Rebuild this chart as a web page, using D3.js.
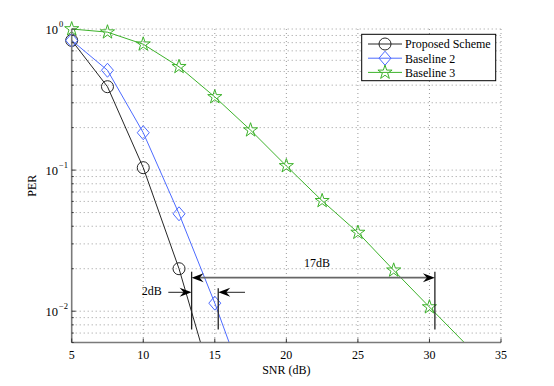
<!DOCTYPE html>
<html>
<head>
<meta charset="utf-8">
<script src="https://cdn.jsdelivr.net/npm/d3@7"></script>
<style>
  body { margin: 0; background: #fff; }
  text { font-family: "Liberation Serif", "Times New Roman", serif; fill: #000; }
</style>
</head>
<body>
<svg id="chart" width="554" height="386"></svg>
<script>
// data
const snr = [5, 7.5, 10, 12.5, 15, 17.5, 20, 22.5, 25, 27.5, 30, 32.5];
const proposed = [0.83, 0.39, 0.104, 0.02, 0.0027];
const baseline2 = [0.83, 0.51, 0.184, 0.049, 0.0114, 0.0023];
const baseline3 = [1.0, 0.95, 0.78, 0.54, 0.33, 0.192, 0.107, 0.0606, 0.0361, 0.0195, 0.0107, 0.0059];
const seriesNames = ['Proposed Scheme', 'Baseline 2', 'Baseline 3'];
const xTicks = [5, 10, 15, 20, 25, 30, 35];
const yDecades = [-2, -1, 0];

// gap annotations (dB / PER)
const gapStart = 13.38;
const gapBaseline2 = 15.24;
const gapBaseline3 = 30.38;
const gapLabels = ['2dB', '17dB'];

const svg = d3.select('#chart');
const W = { left: 71.7, right: 501, top: 29, bottom: 342.5 };
const FS = 12;

const x = d3.scaleLinear().domain([5, 35]).range([W.left, W.right]);
const y = d3.scaleLog().domain([0.006, 1]).range([W.bottom, W.top]);

const series = [
  { name: seriesNames[0], values: proposed, color: '#262626', marker: 'circle' },
  { name: seriesNames[1], values: baseline2, color: '#4d6bff', marker: 'diamond' },
  { name: seriesNames[2], values: baseline3, color: '#3db22b', marker: 'star' },
];

// grid
const grid = svg.append('g').attr('stroke', '#9a9a9a').attr('stroke-dasharray', '1,3').attr('stroke-width', 1);
xTicks.slice(1).forEach((t) => {
  grid.append('line').attr('x1', x(t)).attr('x2', x(t)).attr('y1', W.top).attr('y2', W.bottom);
});
const yGrid = [];
for (let e = -3; e <= 0; e += 1) {
  for (let m = 1; m <= 9; m += 1) {
    const v = m * Math.pow(10, e);
    if (v >= 0.006 && v <= 1) yGrid.push(v);
  }
}
yGrid.forEach((v) => {
  grid.append('line').attr('x1', W.left).attr('x2', W.right).attr('y1', y(v)).attr('y2', y(v));
});

// clip for lines
svg.append('clipPath').attr('id', 'plotClip')
  .append('rect').attr('x', W.left - 1).attr('y', W.top - 2)
  .attr('width', W.right - W.left + 2).attr('height', W.bottom - W.top + 2);

const line = d3.line().x((d) => x(d[0])).y((d) => y(d[1]));

function markerPath(type) {
  if (type === 'circle') return d3.symbol(d3.symbolCircle, Math.PI * 36)();
  if (type === 'diamond') return 'M0,-7L6,0L0,7L-6,0Z';
  return d3.symbol(d3.symbolStar, 62)();
}

series.forEach((s) => {
  const pts = s.values.map((v, i) => [snr[i], v]);
  svg.append('path')
    .attr('clip-path', 'url(#plotClip)')
    .attr('d', line(pts))
    .attr('fill', 'none')
    .attr('stroke', s.color)
    .attr('stroke-width', 1);
  svg.append('g').selectAll('path')
    .data(pts.filter((d) => d[1] >= 0.0062))
    .join('path')
    .attr('transform', (d) => `translate(${x(d[0])},${y(d[1])})`)
    .attr('d', markerPath(s.marker))
    .attr('fill', 'none')
    .attr('stroke', s.color)
    .attr('stroke-width', 1);
});

// axes
const axis = svg.append('g');
axis.append('line').attr('x1', W.left).attr('x2', W.right).attr('y1', W.bottom).attr('y2', W.bottom)
  .attr('stroke', '#7a7a7a').attr('stroke-width', 1.6);
axis.append('line').attr('x1', W.left).attr('x2', W.left).attr('y1', W.top).attr('y2', W.bottom)
  .attr('stroke', '#7a7a7a').attr('stroke-width', 1.6);
xTicks.forEach((t) => {
  axis.append('line').attr('x1', x(t)).attr('x2', x(t)).attr('y1', W.bottom).attr('y2', W.bottom - 4)
    .attr('stroke', '#333');
  axis.append('text').attr('x', x(t)).attr('y', 359).attr('text-anchor', 'middle')
    .attr('font-size', FS).text(t);
});
yGrid.forEach((v) => {
  const major = [1, 0.1, 0.01].includes(v);
  axis.append('line').attr('x1', W.left).attr('x2', W.left + (major ? 4 : 2))
    .attr('y1', y(v)).attr('y2', y(v)).attr('stroke', '#333');
});
yDecades.forEach((e) => {
  const yy = y(Math.pow(10, e));
  axis.append('text').attr('x', 58).attr('y', yy + 4.5).attr('text-anchor', 'end')
    .attr('font-size', 12.5).text('10');
  axis.append('text').attr('x', 59).attr('y', yy - 2).attr('font-size', 8.5)
    .text(e === 0 ? '0' : '\u2212' + (-e));
});
svg.append('text').attr('x', W.left + (W.right - W.left) / 2).attr('y', 374)
  .attr('text-anchor', 'middle').attr('font-size', FS).text('SNR (dB)');
svg.append('text').attr('transform', `translate(36,${(W.top + W.bottom) / 2}) rotate(-90)`)
  .attr('text-anchor', 'middle').attr('font-size', FS).text('PER');

// annotations
const ann = svg.append('g');
function arrowHead(tx, ty, dir) {
  // dir: 1 points right, -1 points left
  ann.append('path')
    .attr('transform', `translate(${tx},${ty}) scale(${dir},1)`)
    .attr('d', 'M0,0L-12,-4.5L-8,0L-12,4.5Z')
    .attr('fill', '#000');
}
const vTop1 = 271.7, vTop2 = 288.3, vBottom = 329.5;
ann.append('line').attr('x1', x(gapStart)).attr('x2', x(gapStart)).attr('y1', vTop1).attr('y2', vBottom)
  .attr('stroke', '#222').attr('stroke-width', 1.3);
ann.append('line').attr('x1', x(gapBaseline2)).attr('x2', x(gapBaseline2)).attr('y1', vTop2).attr('y2', vBottom)
  .attr('stroke', '#222').attr('stroke-width', 1.3);
ann.append('line').attr('x1', x(gapBaseline3)).attr('x2', x(gapBaseline3)).attr('y1', vTop1).attr('y2', vBottom)
  .attr('stroke', '#222').attr('stroke-width', 1.3);

// 17 dB double arrow
const y17 = 277.7;
ann.append('line').attr('x1', x(gapStart) + 6).attr('x2', x(gapBaseline3) - 6).attr('y1', y17).attr('y2', y17)
  .attr('stroke', '#666').attr('stroke-width', 1.8);
arrowHead(x(gapStart), y17, -1);
arrowHead(x(gapBaseline3), y17, 1);
ann.append('text').attr('x', 317).attr('y', 267).attr('text-anchor', 'middle').attr('font-size', FS).text(gapLabels[1]);

// 2 dB converging arrows
const y2 = 292.3;
ann.append('line').attr('x1', 168.3).attr('x2', x(gapStart) - 6).attr('y1', y2).attr('y2', y2)
  .attr('stroke', '#222').attr('stroke-width', 1);
arrowHead(x(gapStart), y2, 1);
ann.append('line').attr('x1', 245).attr('x2', x(gapBaseline2) + 6).attr('y1', y2).attr('y2', y2)
  .attr('stroke', '#222').attr('stroke-width', 1);
arrowHead(x(gapBaseline2), y2, -1);
ann.append('text').attr('x', 151.7).attr('y', 295).attr('text-anchor', 'middle').attr('font-size', FS).text(gapLabels[0]);

// legend
const lg = svg.append('g');
lg.append('rect').attr('x', 361.7).attr('y', 34.3).attr('width', 134).attr('height', 46.4)
  .attr('fill', '#fff').attr('stroke', '#000').attr('stroke-width', 1);
series.forEach((s, i) => {
  const cy = 44 + i * 14.2;
  lg.append('line').attr('x1', 368).attr('x2', 402).attr('y1', cy).attr('y2', cy)
    .attr('stroke', s.color);
  lg.append('path').attr('transform', `translate(385,${cy})`).attr('d', markerPath(s.marker))
    .attr('fill', 'none').attr('stroke', s.color);
  lg.append('text').attr('x', 405).attr('y', cy + 4.3).attr('font-size', FS).text(s.name);
});
</script>
</body>
</html>
